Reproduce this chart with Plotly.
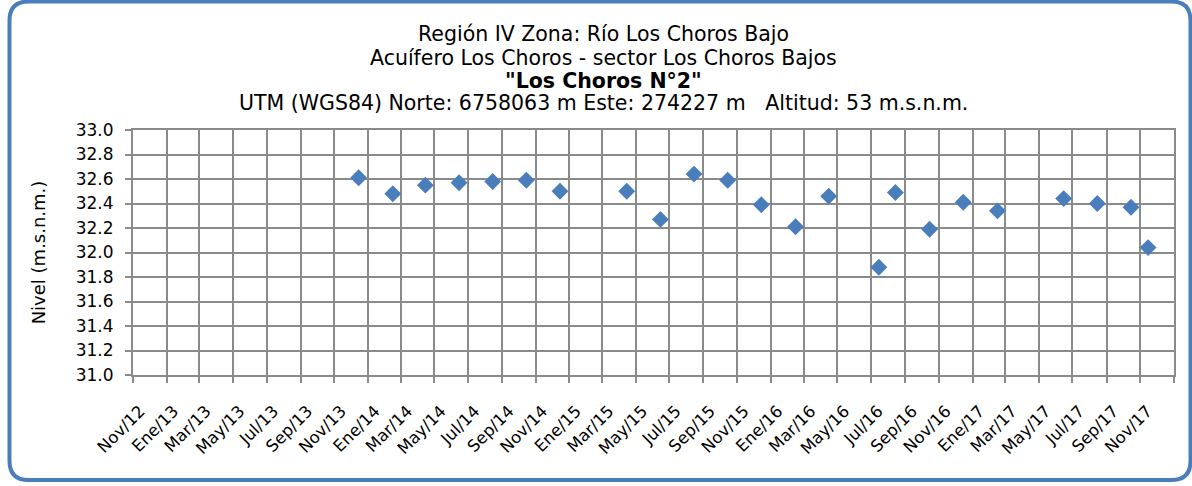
import plotly.graph_objects as go

# Niveles medidos pozo "Los Choros N°2"
fechas = [
    "2013-12-15", "2014-02-15", "2014-04-15", "2014-06-15", "2014-08-15",
    "2014-10-15", "2014-12-15", "2015-04-15", "2015-06-15", "2015-08-15",
    "2015-10-15", "2015-12-15", "2016-02-15", "2016-04-15", "2016-07-15",
    "2016-08-14", "2016-10-15", "2016-12-15", "2017-02-15", "2017-06-15",
    "2017-08-15", "2017-10-15", "2017-11-15",
]
niveles = [
    32.61, 32.48, 32.55, 32.57, 32.58,
    32.59, 32.50, 32.50, 32.27, 32.64,
    32.59, 32.39, 32.21, 32.46, 31.88,
    32.49, 32.19, 32.41, 32.34, 32.44,
    32.40, 32.37, 32.04,
]

tick_fechas = [
    "2012-11-01", "2013-01-01", "2013-03-01", "2013-05-01", "2013-07-01", "2013-09-01",
    "2013-11-01", "2014-01-01", "2014-03-01", "2014-05-01", "2014-07-01", "2014-09-01",
    "2014-11-01", "2015-01-01", "2015-03-01", "2015-05-01", "2015-07-01", "2015-09-01",
    "2015-11-01", "2016-01-01", "2016-03-01", "2016-05-01", "2016-07-01", "2016-09-01",
    "2016-11-01", "2017-01-01", "2017-03-01", "2017-05-01", "2017-07-01", "2017-09-01",
    "2017-11-01", "2018-01-01",
]
tick_textos = [
    "Nov/12", "Ene/13", "Mar/13", "May/13", "Jul/13", "Sep/13",
    "Nov/13", "Ene/14", "Mar/14", "May/14", "Jul/14", "Sep/14",
    "Nov/14", "Ene/15", "Mar/15", "May/15", "Jul/15", "Sep/15",
    "Nov/15", "Ene/16", "Mar/16", "May/16", "Jul/16", "Sep/16",
    "Nov/16", "Ene/17", "Mar/17", "May/17", "Jul/17", "Sep/17",
    "Nov/17", "",
]

titulos = [
    "Región IV Zona: Río Los Choros Bajo",
    "Acuífero Los Choros - sector Los Choros Bajos",
    "<b>\"Los Choros N°2\"</b>",
    "UTM (WGS84) Norte: 6758063 m Este: 274227 m\u00a0\u00a0\u00a0Altitud: 53 m.s.n.m.",
]

W, H = 1192, 486
ML, MR, MT, MB = 133, 18, 130, 111
FONT = "DejaVu Sans, Verdana, sans-serif"
AZUL = "#4A7EBB"
GRIS = "#8A8A8A"


def px_x(px):
    return (px - ML) / (W - ML - MR)


def px_y(py):
    return (H - MB - py) / (H - MT - MB)


# marco redondeado alrededor del gráfico
x0, x1 = px_x(9.5), px_x(1190.5)
y0, y1 = px_y(480), px_y(1.5)
rx = 19 / (W - ML - MR)
ry = 19 / (H - MT - MB)
marco = (
    f"M {x0 + rx},{y1} L {x1 - rx},{y1} Q {x1},{y1} {x1},{y1 - ry} "
    f"L {x1},{y0 + ry} Q {x1},{y0} {x1 - rx},{y0} "
    f"L {x0 + rx},{y0} Q {x0},{y0} {x0},{y0 + ry} "
    f"L {x0},{y1 - ry} Q {x0},{y1} {x0 + rx},{y1} Z"
)

fig = go.Figure()
fig.add_trace(go.Scatter(
    x=fechas,
    y=niveles,
    mode="markers",
    marker=dict(symbol="diamond", size=13, color=AZUL, line=dict(width=0)),
    showlegend=False,
))

# título en cuatro líneas, interlineado ajustado
for texto, yc in zip(titulos, [34, 57.5, 80.5, 103]):
    fig.add_annotation(
        text=texto,
        x=px_x(603), y=px_y(yc),
        xref="paper", yref="paper",
        xanchor="center", yanchor="middle",
        showarrow=False,
        font=dict(family=FONT, size=20.5, color="black"),
    )

fig.update_layout(
    width=W,
    height=H,
    margin=dict(l=ML, r=MR, t=MT, b=MB),
    paper_bgcolor="white",
    plot_bgcolor="white",
    font=dict(family=FONT, size=17, color="black"),
    xaxis=dict(
        type="date",
        range=["2012-11-01", "2018-01-01"],
        tickmode="array",
        tickvals=tick_fechas,
        ticktext=tick_textos,
        tickangle=-45,
        ticks="outside",
        ticklen=6,
        tickcolor=GRIS,
        tickwidth=1.5,
        ticklabelstandoff=12,
        ticklabelshift=7,
        showgrid=True,
        gridcolor=GRIS,
        gridwidth=1.5,
        showline=True,
        linecolor=GRIS,
        linewidth=2,
        mirror=True,
        zeroline=False,
        tickfont=dict(family=FONT, size=16.5),
    ),
    yaxis=dict(
        range=[31.0, 33.0],
        dtick=0.2,
        tick0=31.0,
        tickformat=".1f",
        ticks="outside",
        ticklen=6,
        tickcolor=GRIS,
        tickwidth=1.5,
        ticklabelstandoff=8,
        showgrid=True,
        gridcolor=GRIS,
        gridwidth=1.5,
        showline=True,
        linecolor=GRIS,
        linewidth=2,
        mirror=True,
        zeroline=False,
        tickfont=dict(family=FONT, size=17),
        title=dict(text="Nivel (m.s.n.m.)", font=dict(family=FONT, size=18), standoff=25),
    ),
    shapes=[dict(
        type="path",
        path=marco,
        xref="paper",
        yref="paper",
        line=dict(color=AZUL, width=4),
        fillcolor="rgba(0,0,0,0)",
        layer="above",
    )],
)

fig.write_html(
    "out.html",
    config={"displayModeBar": False},
    post_script="document.body.style.margin='0';document.body.style.overflow='hidden';",
)
